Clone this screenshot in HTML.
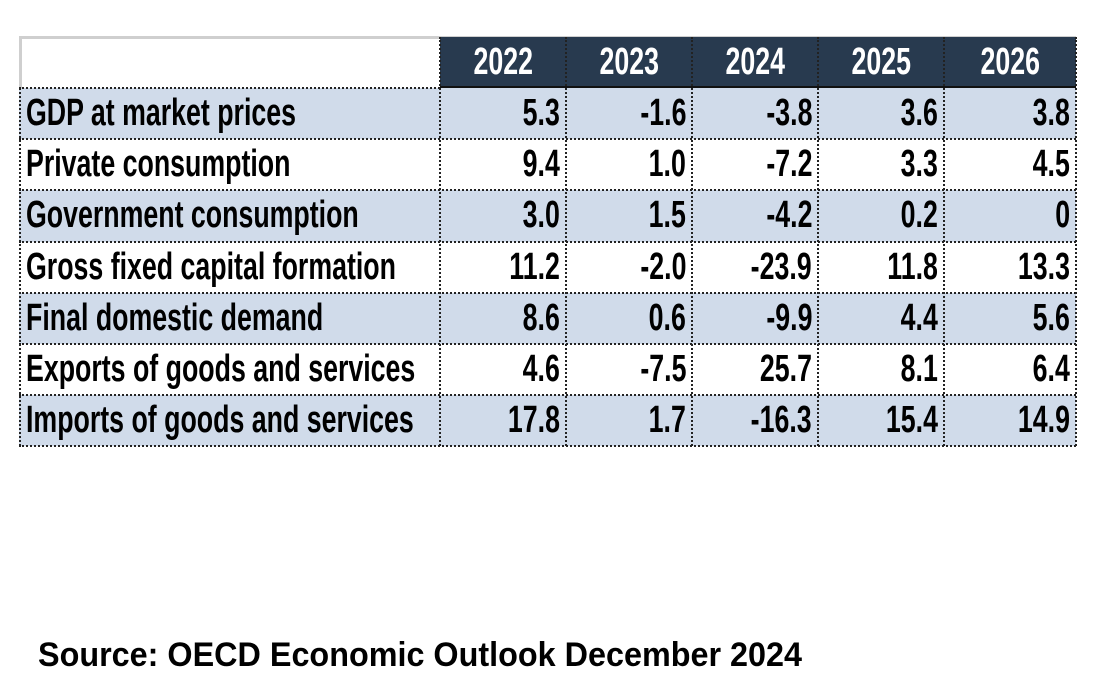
<!DOCTYPE html>
<html><head><meta charset="utf-8">
<style>
body{margin:0;width:1093px;height:677px;background:#fff;position:relative;overflow:hidden;font-family:"Liberation Sans",Arial,sans-serif;}
.abs{position:absolute;}
.txt{position:absolute;white-space:nowrap;font-weight:bold;font-size:38px;line-height:51px;color:#000;}
.src{position:absolute;left:38px;top:636px;font-weight:bold;font-size:34px;white-space:nowrap;transform-origin:left center;}
</style></head>
<body>
<div id="tbl" class="abs" style="left:0;top:0;width:1093px;height:460px;"></div>
<div class="src" id="src">Source: OECD Economic Outlook December 2024</div>
<script>
const years=["2022","2023","2024","2025","2026"];
const rowLabels=["GDP at market prices","Private consumption","Government consumption","Gross fixed capital formation","Final domestic demand","Exports of goods and services","Imports of goods and services"];
const v2022=["5.3","9.4","3.0","11.2","8.6","4.6","17.8"];
const v2023=["-1.6","1.0","1.5","-2.0","0.6","-7.5","1.7"];
const v2024=["-3.8","-7.2","-4.2","-23.9","-9.9","25.7","-16.3"];
const v2025=["3.6","3.3","0.2","11.8","4.4","8.1","15.4"];
const v2026=["3.8","4.5","0","13.3","5.6","6.4","14.9"];
const series=[v2022,v2023,v2024,v2025,v2026];
const T=document.getElementById('tbl');
const L=19,R=1076,TOP=36,HDR=88,RH=51.2;
const colX=[440,566,692,818,944,1076];
function div(css){const d=document.createElement('div');d.className='abs';d.style.cssText=css;T.appendChild(d);return d;}
let b=div(`left:${L}px;top:${TOP}px;width:${R-L}px;height:${HDR-TOP}px;border-top:3px solid #cfcfcf;border-left:3px solid #cfcfcf;box-sizing:border-box;`);

let h=div(`left:${colX[0]}px;top:${TOP+1}px;width:${R-colX[0]}px;height:${HDR-TOP-1}px;background:#283a4f;`);

let hl=div(`left:${colX[0]}px;top:${HDR-2}px;width:${R-colX[0]}px;height:3px;background:#111;`);

const toScale=[];
years.forEach((y,i)=>{
  const t=document.createElement('div');t.className='txt';
  
  
  t.style.cssText+=`left:${colX[i]}px;width:${colX[i+1]-colX[i]}px;top:${TOP+1}px;height:50px;line-height:50px;text-align:center;color:#fff;`;
  const s=document.createElement('span');s.textContent=y;s.style.display='inline-block';t.appendChild(s);toScale.push([s,'center']);
  T.appendChild(t);
});
rowLabels.forEach((lab,r)=>{
  const top=HDR+r*RH;
  const bg=div(`left:${L}px;top:${top}px;width:${R-L}px;height:${RH}px;background:${r%2==0?'#d0dbea':'#fff'};`);
  
  
  const t=document.createElement('div');t.className='txt';
  
  
  t.style.cssText+=`left:26px;top:${top}px;height:${RH}px;`;
  const s=document.createElement('span');s.textContent=lab;s.style.display='inline-block';s.style.transformOrigin='left center';t.appendChild(s);toScale.push([s,'left']);
  T.appendChild(t);
  series.forEach((ser,c)=>{
    const v=document.createElement('div');v.className='txt';
    
    
    v.style.cssText+=`left:${colX[c]}px;width:${colX[c+1]-colX[c]-6}px;top:${top}px;height:${RH}px;text-align:right;`;
    const s2=document.createElement('span');s2.textContent=ser[r];s2.style.display='inline-block';s2.style.transformOrigin='right center';v.appendChild(s2);toScale.push([s2,'right']);
    T.appendChild(v);
  });
});
for(let r=0;r<=rowLabels.length;r++){
  const y=HDR+r*RH-1;
  if(r==0){const d=div(`left:${L}px;top:${y}px;width:${colX[0]-L}px;height:0;border-top:2px dotted #222;`);continue;}
  const d=div(`left:${L}px;top:${y}px;width:${R-L}px;height:0;border-top:2px dotted #222;`);
  
  
}
const bottom=HDR+rowLabels.length*RH;
colX.forEach((x,i)=>{
  const d=div(`left:${x-1}px;top:${TOP+1}px;width:0;height:${bottom-TOP-1}px;border-left:2px dotted #222;`);
  
  
});
const lv=div(`left:${L}px;top:${HDR}px;width:0;height:${bottom-HDR}px;border-left:2px dotted #222;`);

const first=toScale.find(a=>a[0].textContent==rowLabels[0])[0];
const sc=270/first.getBoundingClientRect().width;
toScale.forEach(([s,o])=>{s.style.transform=`scaleX(${sc})`;if(o=='center')s.style.transformOrigin='center center';});
const src=document.getElementById('src');
src.style.transform=`scaleX(${764/src.getBoundingClientRect().width})`;
</script>
</body></html>
